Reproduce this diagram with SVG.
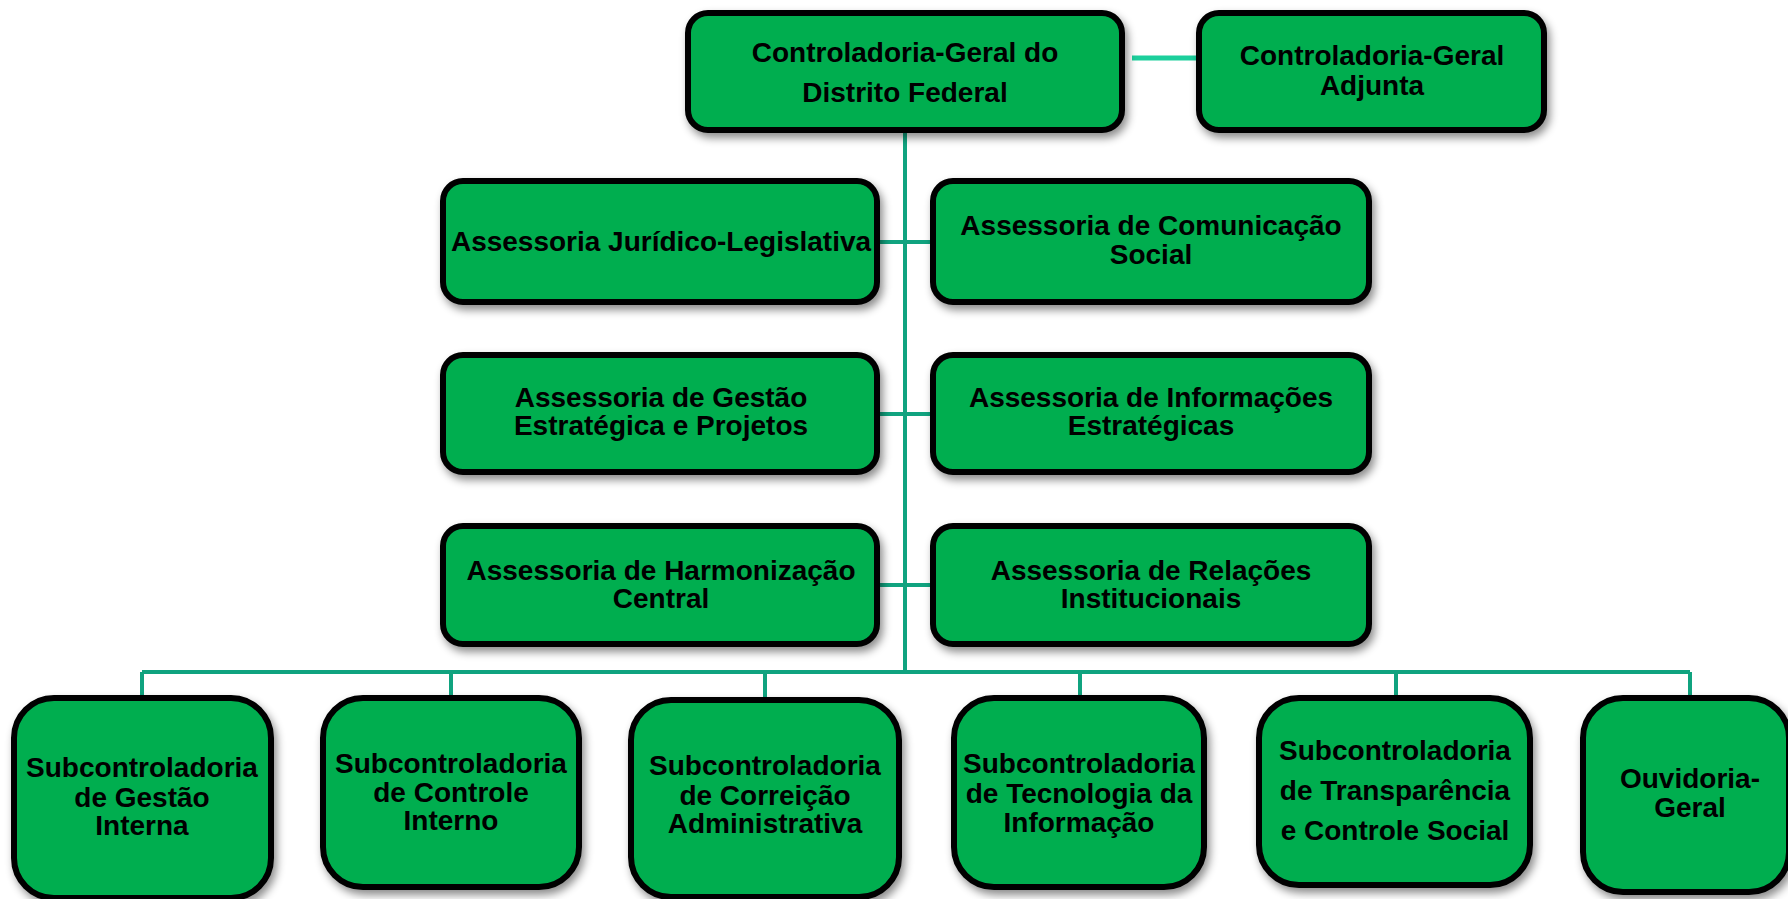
<svg xmlns="http://www.w3.org/2000/svg" width="1788" height="899" viewBox="0 0 1788 899">
<defs>
<filter id="sh" x="-10%" y="-10%" width="125%" height="130%">
<feDropShadow dx="3" dy="5" stdDeviation="4" flood-color="#000" flood-opacity="0.45"/>
</filter>
<style>
.box{fill:#00AE50;stroke:#000;stroke-width:6;filter:url(#sh)}
.t{font-family:"Liberation Sans",Arial,sans-serif;font-weight:bold;font-size:28px;fill:#000;text-anchor:middle}
.c{stroke:#10A37F;stroke-width:4;fill:none}
.c2{stroke:#1CCF9C;stroke-width:5;fill:none}
</style>
</defs>
<rect width="1788" height="899" fill="#fff"/>
<g id="connectors">
<path class="c" d="M905 133V672"/>
<path class="c" d="M880 242H930M880 414H930M880 585H930"/>
<path class="c" d="M142 672H1690"/>
<path class="c" d="M142 672V695M451 672V695M765 672V697M1080 672V695M1396 672V695M1690 672V695"/>
<path class="c2" d="M1132 58H1207"/>
</g>
<g id="n-cgdf"><rect class="box" x="688" y="13" width="434" height="117" rx="20"/>
<text class="t" x="905" y="62">Controladoria-Geral do</text><text class="t" x="905" y="102">Distrito Federal</text></g>
<g id="n-adjunta"><rect class="box" x="1199" y="13" width="345" height="117" rx="20"/>
<text class="t" x="1372" y="65">Controladoria-Geral</text><text class="t" x="1372" y="95">Adjunta</text></g>
<g id="n-ajl"><rect class="box" x="443" y="181" width="434" height="121" rx="20"/>
<text class="t" x="661" y="251">Assessoria Jurídico-Legislativa</text></g>
<g id="n-acs"><rect class="box" x="933" y="181" width="436" height="121" rx="20"/>
<text class="t" x="1151" y="235">Assessoria de Comunicação</text><text class="t" x="1151" y="264">Social</text></g>
<g id="n-agep"><rect class="box" x="443" y="355" width="434" height="117" rx="20"/>
<text class="t" x="661" y="407">Assessoria de Gestão</text><text class="t" x="661" y="435">Estratégica e Projetos</text></g>
<g id="n-aie"><rect class="box" x="933" y="355" width="436" height="117" rx="20"/>
<text class="t" x="1151" y="407">Assessoria de Informações</text><text class="t" x="1151" y="435">Estratégicas</text></g>
<g id="n-ahc"><rect class="box" x="443" y="526" width="434" height="118" rx="20"/>
<text class="t" x="661" y="580">Assessoria de Harmonização</text><text class="t" x="661" y="608">Central</text></g>
<g id="n-ari"><rect class="box" x="933" y="526" width="436" height="118" rx="20"/>
<text class="t" x="1151" y="580">Assessoria de Relações</text><text class="t" x="1151" y="608">Institucionais</text></g>
<g id="n-sgi"><rect class="box" x="14" y="698" width="257" height="200" rx="40"/>
<text class="t" x="142" y="777">Subcontroladoria</text><text class="t" x="142" y="807">de Gestão</text><text class="t" x="142" y="835">Interna</text></g>
<g id="n-sci"><rect class="box" x="323" y="698" width="256" height="189" rx="40"/>
<text class="t" x="451" y="773">Subcontroladoria</text><text class="t" x="451" y="802">de Controle</text><text class="t" x="451" y="830">Interno</text></g>
<g id="n-sca"><rect class="box" x="631" y="700" width="268" height="197" rx="40"/>
<text class="t" x="765" y="775">Subcontroladoria</text><text class="t" x="765" y="805">de Correição</text><text class="t" x="765" y="833">Administrativa</text></g>
<g id="n-sti"><rect class="box" x="954" y="698" width="250" height="189" rx="40"/>
<text class="t" x="1079" y="773">Subcontroladoria</text><text class="t" x="1079" y="803">de Tecnologia da</text><text class="t" x="1079" y="832">Informação</text></g>
<g id="n-stcs"><rect class="box" x="1259" y="698" width="271" height="187" rx="40"/>
<text class="t" x="1395" y="760">Subcontroladoria</text><text class="t" x="1395" y="800">de Transparência</text><text class="t" x="1395" y="840">e Controle Social</text></g>
<g id="n-og"><rect class="box" x="1583" y="698" width="206" height="194" rx="40"/>
<text class="t" x="1690" y="788">Ouvidoria-</text><text class="t" x="1690" y="817">Geral</text></g>
</svg>
